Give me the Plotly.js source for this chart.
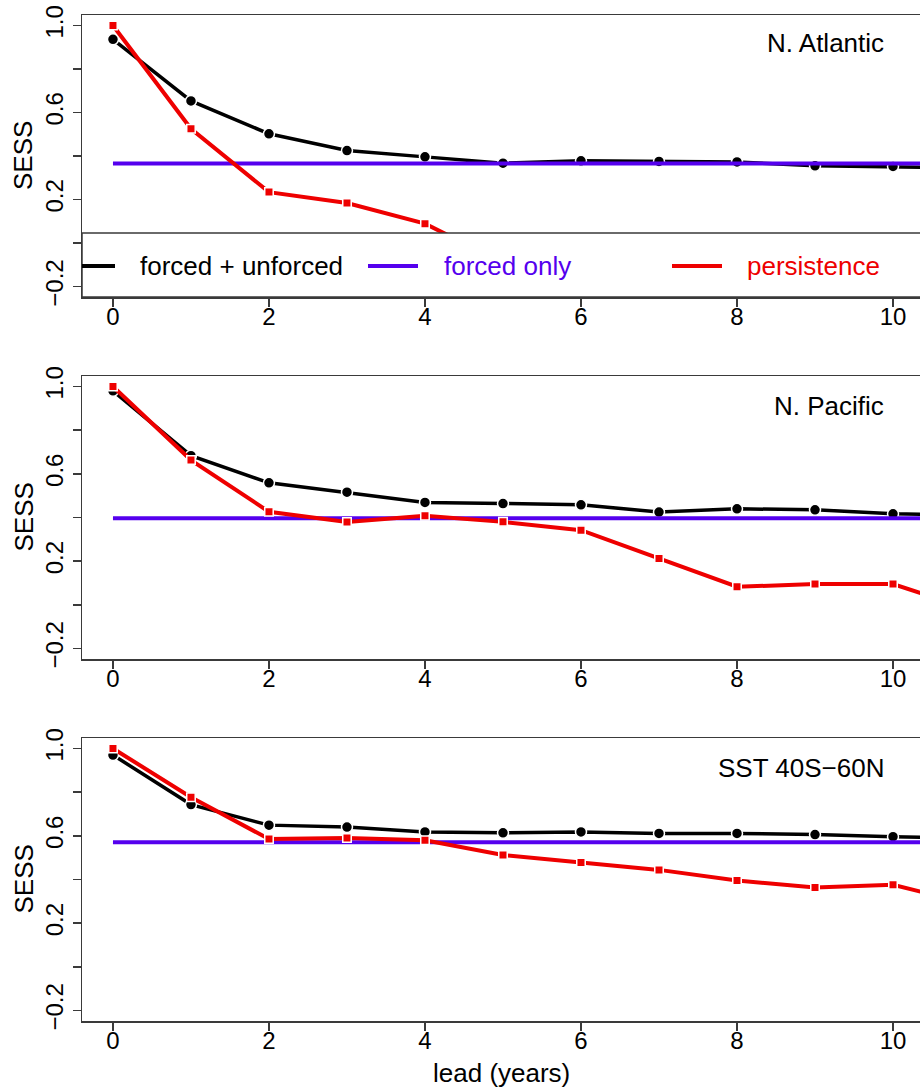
<!DOCTYPE html>
<html>
<head>
<meta charset="utf-8">
<script src="https://cdn.plot.ly/plotly-3.0.1.min.js"></script>
<style>
html,body{margin:0;padding:0;background:#fff;}
#chart{width:920px;height:1090px;}
</style>
</head>
<body>
<div id="chart"></div>
<script>
// ---- data ----
const lead = [0, 1, 2, 3, 4, 5, 6, 7, 8, 9, 10, 11];

const panelNames = ["N. Atlantic", "N. Pacific", "SST 40S\u221260N"];
const seriesNames = ["forced + unforced", "forced only", "persistence"];

const naForcedUnforced = [0.936, 0.653, 0.502, 0.425, 0.396, 0.367, 0.378, 0.375, 0.373, 0.355, 0.352, 0.345];
const naForcedOnly     = [0.365, 0.365, 0.365, 0.365, 0.365, 0.365, 0.365, 0.365, 0.365, 0.365, 0.365, 0.365];
const naPersistence    = [1.000, 0.525, 0.234, 0.184, 0.089, -0.090, -0.120, -0.140, -0.130, -0.160, -0.170, -0.180];

const npForcedUnforced = [0.980, 0.683, 0.559, 0.516, 0.469, 0.464, 0.458, 0.425, 0.440, 0.435, 0.417, 0.410];
const npForcedOnly     = [0.396, 0.396, 0.396, 0.396, 0.396, 0.396, 0.396, 0.396, 0.396, 0.396, 0.396, 0.396];
const npPersistence    = [1.000, 0.663, 0.426, 0.379, 0.408, 0.380, 0.342, 0.212, 0.083, 0.095, 0.095, -0.020];

const sstForcedUnforced = [0.970, 0.743, 0.649, 0.640, 0.618, 0.614, 0.618, 0.611, 0.611, 0.606, 0.596, 0.590];
const sstForcedOnly     = [0.571, 0.571, 0.571, 0.571, 0.571, 0.571, 0.571, 0.571, 0.571, 0.571, 0.571, 0.571];
const sstPersistence    = [1.000, 0.777, 0.585, 0.590, 0.580, 0.512, 0.478, 0.444, 0.395, 0.363, 0.376, 0.287];

const yTickVals = [-0.2, 0.0, 0.2, 0.4, 0.6, 0.8, 1.0];
const yTickText = ["\u22120.2", "", "0.2", "", "0.6", "", "1.0"];
const xTickVals = [0, 2, 4, 6, 8, 10];
const xTickText = ["0", "2", "4", "6", "8", "10"];

// ---- style ----
const FONT = "Liberation Sans, Arial, Helvetica, sans-serif";
const BLACK = "#000000", BLUE = "#5500ee", RED = "#ee0000";
const AXC = "#3a3a3a";
const W = 920, H = 1090;
const boxLeft = 82;
const panels = [ // top/bottom pixel of each plot box
  {top: 15, bottom: 297},
  {top: 376, bottom: 659},
  {top: 738, bottom: 1021}
];
const data = [
  [naForcedUnforced, naForcedOnly, naPersistence],
  [npForcedUnforced, npForcedOnly, npPersistence],
  [sstForcedUnforced, sstForcedOnly, sstPersistence]
];

const traces = [];
const layout = {
  width: W, height: H,
  margin: {l: 0, r: 0, t: 0, b: 0},
  paper_bgcolor: "#fff", plot_bgcolor: "#fff",
  showlegend: false,
  font: {family: FONT, size: 24, color: "#000"},
  shapes: [], annotations: []
};

panels.forEach((p, i) => {
  const n = i === 0 ? "" : String(i + 1);
  const xa = "x" + n, ya = "y" + n;
  const [fu, fo, pe] = data[i];
  traces.push({
    x: lead, y: fu, xaxis: xa, yaxis: ya, type: "scatter", mode: "lines+markers",
    name: seriesNames[0],
    line: {color: BLACK, width: 3.5},
    marker: {symbol: "circle", size: 11, color: BLACK, line: {color: "#fff", width: 1.5}}
  });
  traces.push({
    x: lead, y: fo, xaxis: xa, yaxis: ya, type: "scatter", mode: "lines",
    name: seriesNames[1],
    line: {color: BLUE, width: 4}
  });
  traces.push({
    x: lead, y: pe, xaxis: xa, yaxis: ya, type: "scatter", mode: "lines+markers",
    name: seriesNames[2],
    line: {color: RED, width: 4},
    marker: {symbol: "square", size: 8.5, color: RED, line: {color: "#fff", width: 1.5}}
  });

  layout["xaxis" + n] = {
    domain: [boxLeft / W, 1],
    range: [-0.397, 10.346],
    anchor: ya,
    showgrid: false, zeroline: false,
    showline: true, linecolor: AXC, linewidth: 1.5, mirror: true,
    ticks: "outside", ticklen: 8, tickwidth: 1.5, tickcolor: AXC,
    tickvals: xTickVals, ticktext: xTickText,
    ticklabelstandoff: -10,
    tickfont: {family: FONT, size: 24, color: "#000"},
    fixedrange: true
  };
  layout["yaxis" + n] = {
    domain: [(H - p.bottom) / H, (H - p.top) / H],
    range: [-0.248, 1.048],
    anchor: xa,
    showgrid: false, zeroline: false,
    showline: true, linecolor: AXC, linewidth: 1.5,
    ticks: "outside", ticklen: 8, tickwidth: 1.5, tickcolor: AXC,
    tickvals: yTickVals, ticktext: yTickText, tickangle: -90,
    tickfont: {family: FONT, size: 24, color: "#000"},
    fixedrange: true
  };

  // SESS label
  layout.annotations.push({
    xref: "paper", yref: "paper",
    x: 23 / W, y: (H - (p.top + p.bottom) / 2) / H,
    text: "SESS", textangle: -90, showarrow: false,
    xanchor: "center", yanchor: "middle",
    font: {family: FONT, size: 26, color: "#000"}
  });
  // panel name
  const nameY = [43, 406, 768][i];
  layout.annotations.push({
    xref: "paper", yref: "paper",
    x: 886 / W, y: (H - nameY) / H,
    text: panelNames[i], showarrow: false,
    xanchor: "right", yanchor: "middle",
    font: {family: FONT, size: 26, color: "#000"}
  });
});

// x-axis title (bottom panel only)
layout.annotations.push({
  xref: "paper", yref: "paper",
  x: 502 / W, y: (H - 1073) / H,
  text: "lead (years)", showarrow: false,
  xanchor: "center", yanchor: "middle",
  font: {family: FONT, size: 26, color: "#000"}
});

// legend box inside the first panel
const legTop = 233, legBot = 297, legY = 266;
layout.shapes.push({
  type: "rect", xref: "paper", yref: "paper", layer: "above",
  x0: boxLeft / W, x1: 1.02, y0: (H - legBot) / H, y1: (H - legTop) / H,
  fillcolor: "#fff", line: {color: AXC, width: 1.5}
});
const legItems = [
  {x0: 82, x1: 115, tx: 138, color: BLACK, textColor: "#000", label: seriesNames[0]},
  {x0: 368, x1: 418, tx: 442, color: BLUE, textColor: BLUE, label: seriesNames[1]},
  {x0: 672, x1: 722, tx: 745, color: RED, textColor: RED, label: seriesNames[2]}
];
legItems.forEach(it => {
  layout.shapes.push({
    type: "line", xref: "paper", yref: "paper", layer: "above",
    x0: it.x0 / W, x1: it.x1 / W, y0: (H - legY) / H, y1: (H - legY) / H,
    line: {color: it.color, width: 4}
  });
  layout.annotations.push({
    xref: "paper", yref: "paper",
    x: it.tx / W, y: (H - legY) / H,
    text: it.label, showarrow: false,
    xanchor: "left", yanchor: "middle",
    font: {family: FONT, size: 26, color: it.textColor}
  });
});

Plotly.newPlot("chart", traces, layout, {displayModeBar: false, staticPlot: true});
</script>
</body>
</html>
